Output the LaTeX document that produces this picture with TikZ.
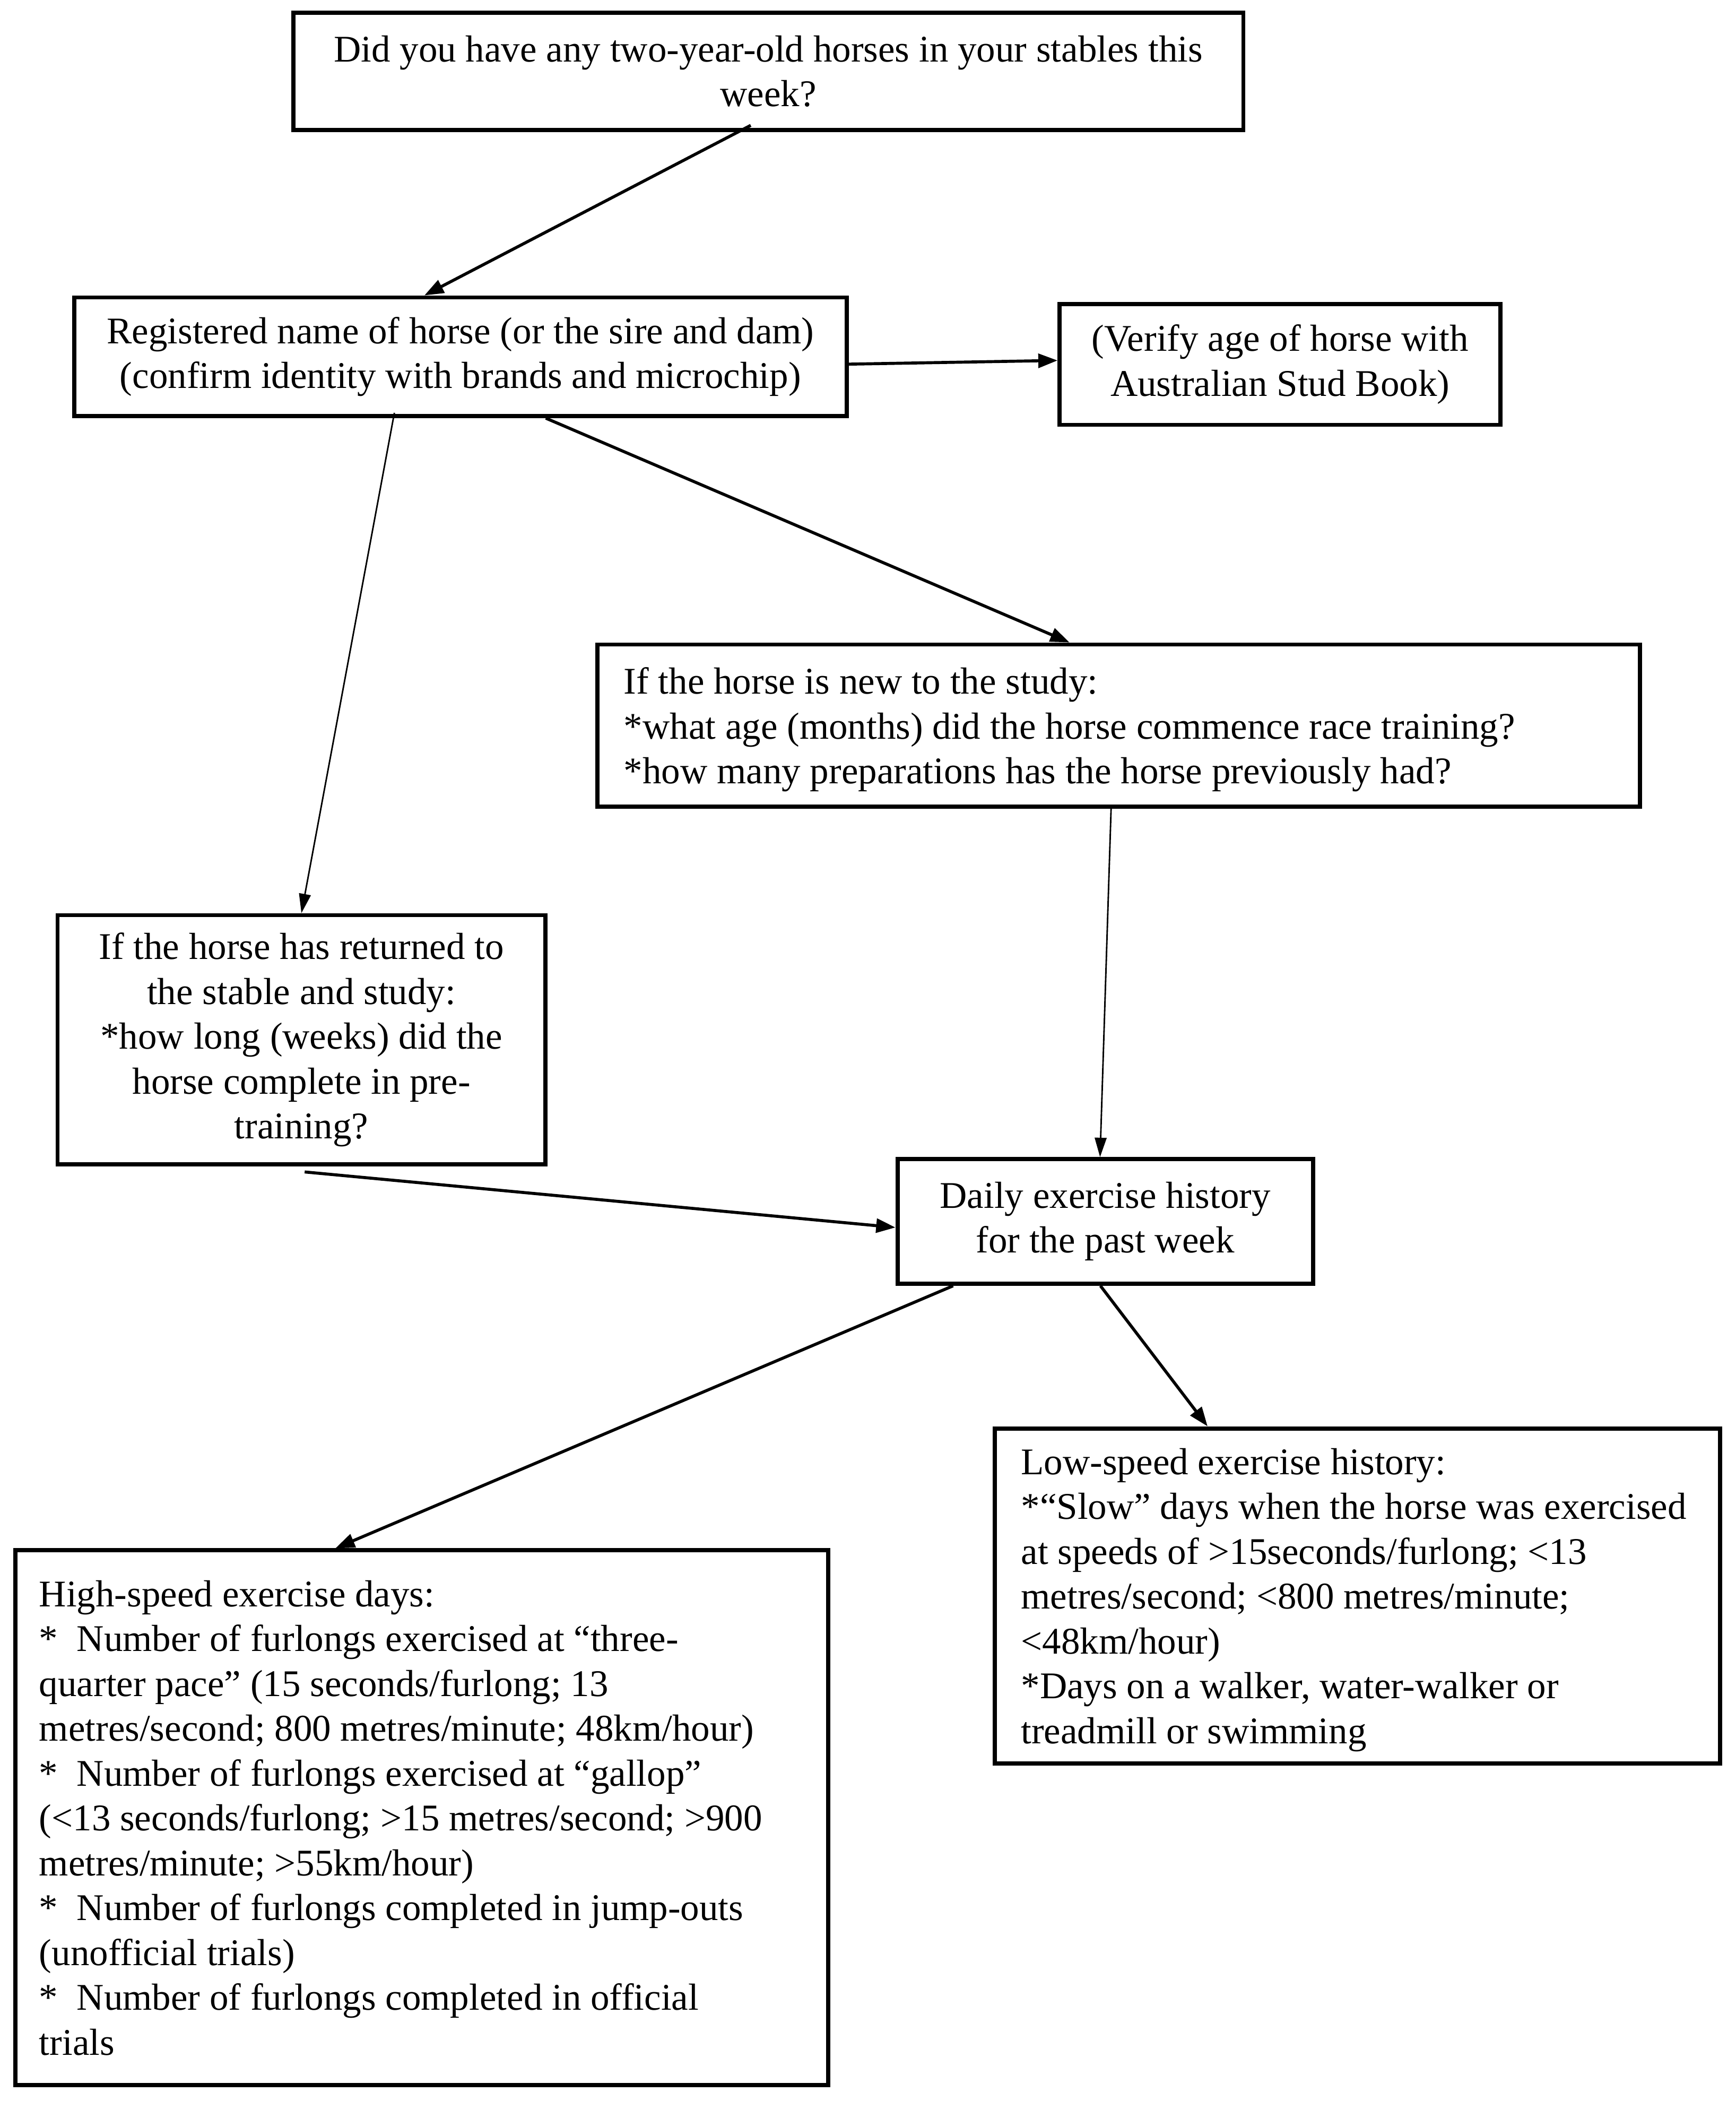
\documentclass[tikz,border=0pt]{standalone}
\usepackage{fontspec}
\setmainfont{Liberation Serif}
\usetikzlibrary{arrows.meta,calc}
\begin{document}
\begin{tikzpicture}[x=0.025cm,y=-0.025cm]
\tikzset{
  box/.style={draw, line width=2.2pt, rectangle, inner sep=0pt,
    font=\fontsize{20}{23.8}\selectfont},
  cbox/.style={box, align=center},
  txt/.style={inner sep=0pt, align=left, anchor=west,
    font=\fontsize{20}{23.8}\selectfont},
  conn/.style={line width=1.6pt, -{Triangle[length=0.36cm,width=0.26cm]}},
  thinconn/.style={line width=0.8pt, -{Triangle[length=0.36cm,width=0.22cm]}}
}
\fill[white] (0,0) rectangle (1295.8,1567.9);
\useasboundingbox (0,0) rectangle (1295.8,1567.9);

\node[cbox, minimum width=17.725cm, minimum height=2.1875cm] (top) at (573.5,53.25)
  {Did you have any two-year-old horses in your stables this\\ week?};
\node[cbox, minimum width=14.415cm, minimum height=2.2125cm] (reg) at (343.7,266.25)
  {Registered name of horse (or the sire and dam)\\ (confirm identity with brands and microchip)};
\node[cbox, minimum width=8.225cm, minimum height=2.25cm] (ver) at (955.5,272)
  {(Verify age of horse with\\ Australian Stud Book)};
\node[box, minimum width=19.45cm, minimum height=3.025cm] (new) at (835,541.5) {};
\node[txt] (newt) at ($(new.west)+(21,3)$)
  {If the horse is new to the study:\\ *what age (months) did the horse commence race training?\\ *how many preparations has the horse previously had?};
\node[cbox, minimum width=9.1cm, minimum height=4.65cm] (ret) at (225,776)
  {If the horse has returned to\\ the stable and study:\\ *how long (weeks) did the\\ horse complete in pre-\\ training?};
\node[cbox, minimum width=7.75cm, minimum height=2.325cm] (daily) at (825,911.5)
  {Daily exercise history\\ for the past week};
\node[box, minimum width=13.5375cm, minimum height=6.25cm] (low) at (1013.25,1191) {};
\node[txt] (lowt) at ($(low.west)+(21,3)$)
  {Low-speed exercise history:\\ *“Slow” days when the horse was exercised\\ at speeds of >15seconds/furlong; <13\\ metres/second; <800 metres/minute;\\ <48km/hour)\\ *Days on a walker, water-walker or\\ treadmill or swimming};
\node[box, minimum width=15.16cm, minimum height=9.975cm] (high) at (314.8,1356.5) {};
\node[txt] (hight) at ($(high.west)+(19,0)$)
  {High-speed exercise days:\\ *\ \ Number of furlongs exercised at “three-\\ quarter pace” (15 seconds/furlong; 13\\ metres/second; 800 metres/minute; 48km/hour)\\ *\ \ Number of furlongs exercised at “gallop”\\ (<13 seconds/furlong; >15 metres/second; >900\\ metres/minute; >55km/hour)\\ *\ \ Number of furlongs completed in jump-outs\\ (unofficial trials)\\ *\ \ Number of furlongs completed in official\\ trials};

\draw[conn] ($(top.south west)+(343,-5)$) -- ($(reg.north west)+(263,0)$);
\draw[conn] ($(reg.east)+(0,5.5)$) -- ($(ver.west)+(0,-3)$);
\draw[thinconn] ($(reg.south west)+(240.6,-4)$) -- (ret.north);
\draw[conn] ($(reg.south west)+(353.6,0)$) -- ($(new.north west)+(354,0)$);
\draw[thinconn] ($(new.south west)+(385,0)$) -- ($(daily.north west)+(152.7,0)$);
\draw[conn] ($(ret.south west)+(186,4)$) -- ($(daily.west)+(0,4.5)$);
\draw[conn] ($(daily.south west)+(43,0)$) -- ($(high.north west)+(240.4,0)$);
\draw[conn] ($(daily.south west)+(153,0)$) -- ($(low.north west)+(160.5,0)$);
\end{tikzpicture}
\end{document}
